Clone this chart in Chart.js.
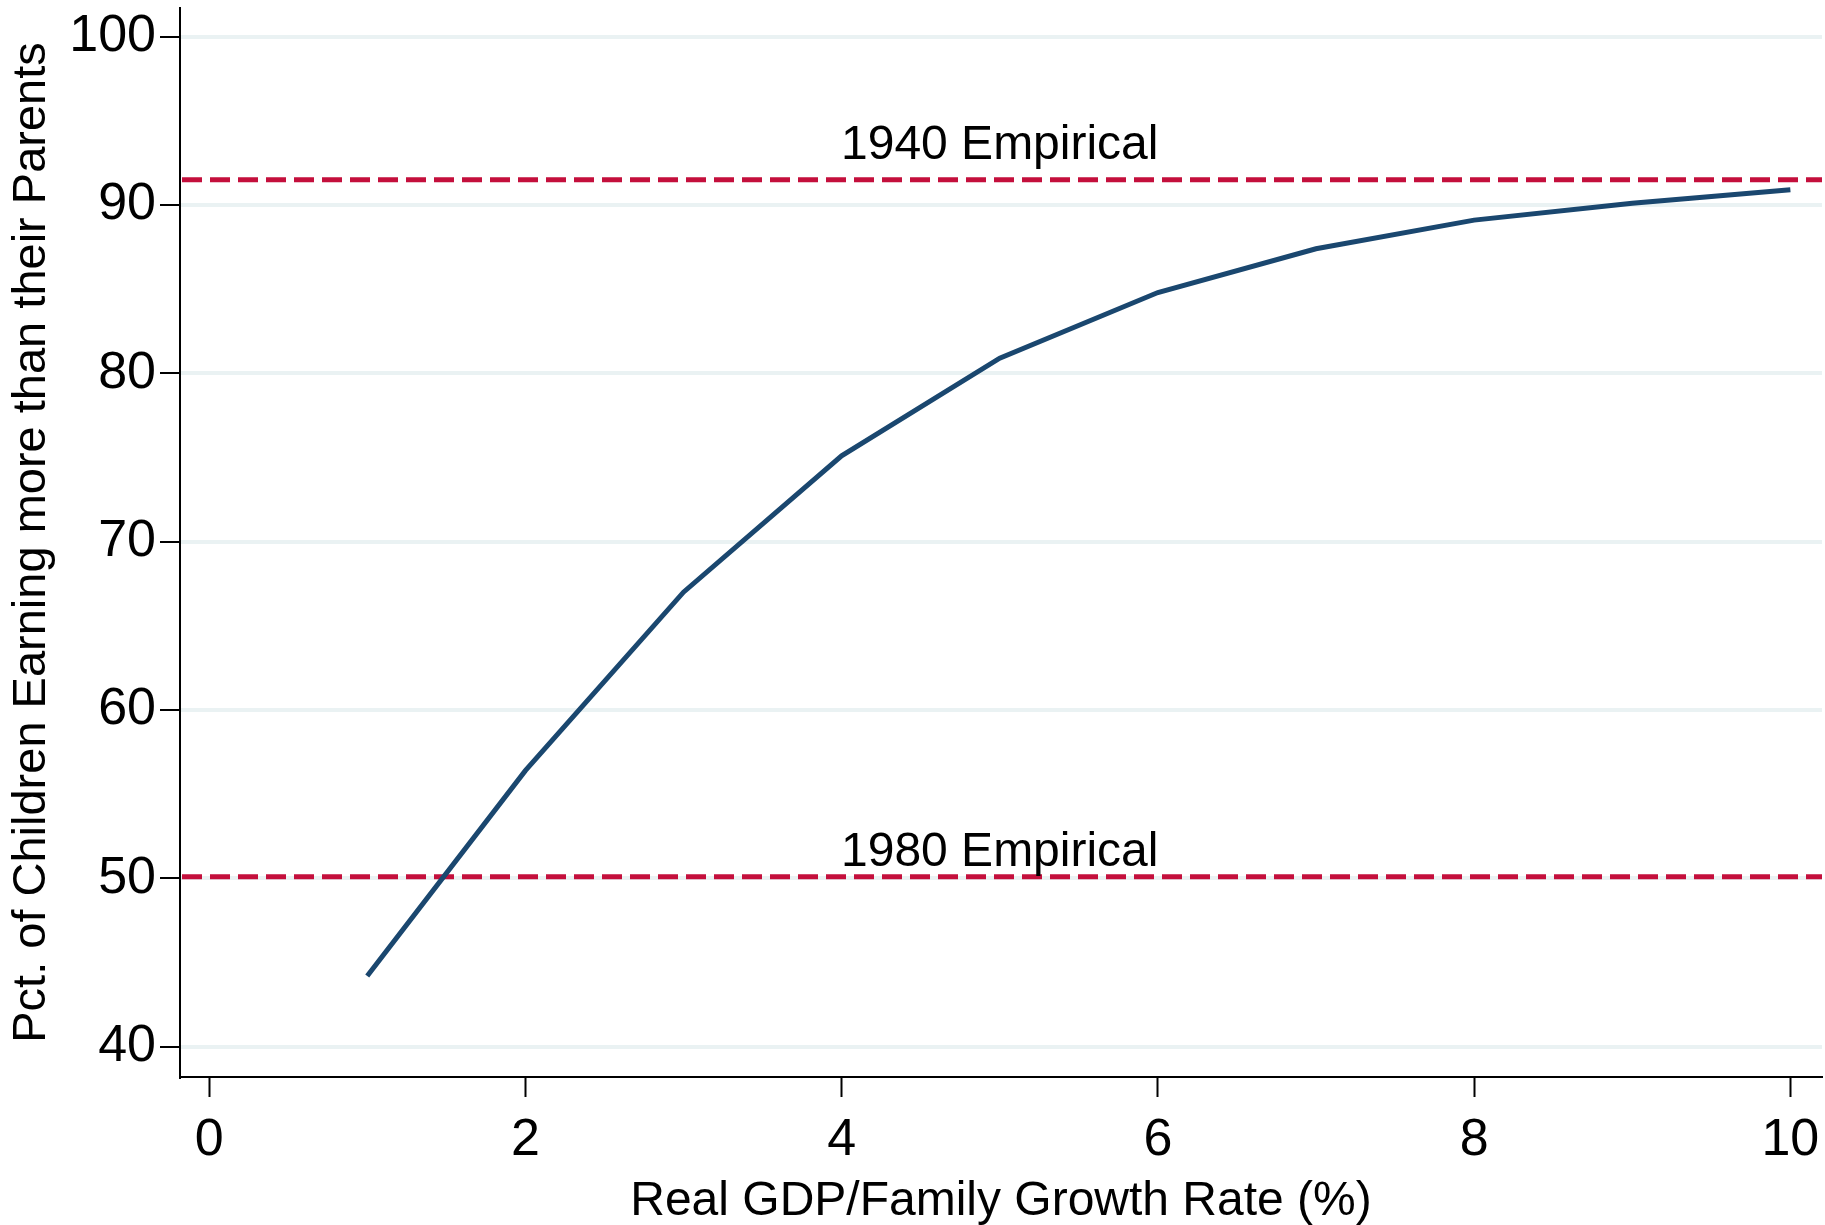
<!DOCTYPE html>
<html>
<head>
<meta charset="utf-8">
<title>Upward mobility vs. growth</title>
<script src="https://cdn.jsdelivr.net/npm/chart.js@4.4.1/dist/chart.umd.min.js"></script>
<style>
    html, body { margin: 0; padding: 0; background: #ffffff; }
    #chart-wrap { width: 1825px; height: 1225px; }
</style>
</head>
<body>
<div id="chart-wrap"><canvas id="mobility-chart" width="1825" height="1225"></canvas></div>
<script>
// Growth rate (%) and share of children out-earning their parents
const growthRates = [1, 2, 3, 4, 5, 6, 7, 8, 9, 10];
const pctEarningMore = [44.2, 56.4, 67.0, 75.1, 80.9, 84.8, 87.4, 89.1, 90.1, 90.9];

// Empirical reference lines and their labels
const empiricalNames = ['1940 Empirical', '1980 Empirical'];
const empiricalValues = [91.5, 50.1];
const empiricalLabelY = [93.5, 51.5];
const empiricalLabelX = 5;

// Tick labels
const xTicks = [0, 2, 4, 6, 8, 10];
const yTicks = [40, 50, 60, 70, 80, 90, 100];

const FONT = "'Liberation Sans', Arial, Helvetica, sans-serif";
const NAVY = '#1a476f';
const CRANBERRY = '#c40f3c';
const GRID = '#eaf2f3';

/**
 * Draws the dashed empirical lines (under the curve) and their captions
 */
const empiricalLinesPlugin = {
    id: 'empiricalLines',
    beforeDatasetsDraw(chart) {
        const { ctx, chartArea, scales } = chart;
        ctx.save();
        ctx.strokeStyle = CRANBERRY;
        ctx.lineWidth = 5;
        ctx.setLineDash([20, 8]);
        empiricalValues.forEach((v) => {
            const y = scales.y.getPixelForValue(v);
            ctx.beginPath();
            ctx.moveTo(chartArea.left + 2, y);
            ctx.lineTo(chartArea.right, y);
            ctx.stroke();
        });
        ctx.setLineDash([]);
        ctx.fillStyle = '#000000';
        ctx.font = '48px ' + FONT;
        ctx.textAlign = 'center';
        ctx.textBaseline = 'middle';
        empiricalNames.forEach((name, i) => {
            ctx.fillText(name, scales.x.getPixelForValue(empiricalLabelX), scales.y.getPixelForValue(empiricalLabelY[i]));
        });
        ctx.restore();
    }
};

/**
 * Replace generated ticks with a fixed list
 */
function fixedTicks(list) {
    return function(scale) {
        scale.ticks = list.map((v) => ({ value: v }));
    };
}

function createMobilityChart(canvas) {
    const config = {
        type: 'line',
        data: {
            datasets: [{
                label: 'Pct. earning more',
                data: growthRates.map((g, i) => ({ x: g, y: pctEarningMore[i] })),
                borderColor: NAVY,
                borderWidth: 5,
                pointRadius: 0,
                fill: false,
                tension: 0
            }]
        },
        options: {
            responsive: false,
            animation: false,
            layout: { padding: { top: 8, right: 3, left: 0, bottom: 0 } },
            plugins: {
                legend: { display: false },
                tooltip: { enabled: false }
            },
            scales: {
                x: {
                    type: 'linear',
                    min: -0.184,
                    max: 10.2,
                    afterBuildTicks: fixedTicks(xTicks),
                    afterFit: (scale) => {
                        scale.height = 148;
                        scale.paddingLeft = 0;
                        scale.paddingRight = 0;
                    },
                    border: { color: '#000000', width: 2 },
                    grid: {
                        drawOnChartArea: false,
                        tickLength: 20,
                        tickColor: '#000000',
                        tickWidth: 2
                    },
                    ticks: {
                        color: '#000000',
                        font: { family: FONT, size: 52 },
                        padding: 12,
                        maxRotation: 0
                    },
                    title: {
                        display: true,
                        text: 'Real GDP/Family Growth Rate (%)',
                        color: '#000000',
                        font: { family: FONT, size: 48 },
                        padding: { top: 0, bottom: -6 }
                    }
                },
                y: {
                    type: 'linear',
                    min: 38.2,
                    max: 101.7,
                    afterBuildTicks: fixedTicks(yTicks),
                    afterFit: (scale) => {
                        scale.width = 180;
                        scale.paddingTop = 0;
                        scale.paddingBottom = 0;
                    },
                    border: { color: '#000000', width: 2 },
                    grid: {
                        color: GRID,
                        lineWidth: 4,
                        tickLength: 20,
                        tickColor: '#000000',
                        tickWidth: 2
                    },
                    ticks: {
                        color: '#000000',
                        font: { family: FONT, size: 52 },
                        padding: 4
                    },
                    title: {
                        display: true,
                        text: 'Pct. of Children Earning more than their Parents',
                        color: '#000000',
                        font: { family: FONT, size: 47 },
                        padding: { top: 4, bottom: 0 }
                    }
                }
            }
        },
        plugins: [empiricalLinesPlugin]
    };
    return new Chart(canvas, config);
}

createMobilityChart(document.getElementById('mobility-chart'));
</script>
</body>
</html>
